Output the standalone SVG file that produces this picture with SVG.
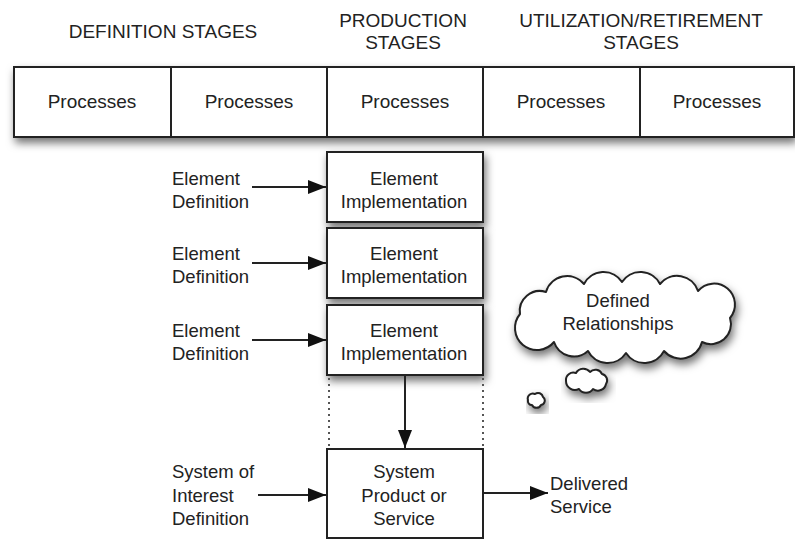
<svg xmlns="http://www.w3.org/2000/svg" width="795" height="543" viewBox="0 0 795 543">
<style>
text{font-family:"Liberation Sans",Arial,sans-serif;fill:#222;}
.h{font-size:19px;text-anchor:middle;}
.t{font-size:18.5px;text-anchor:middle;}
.l{font-size:18.5px;}
.box{fill:#fff;stroke:#222;stroke-width:2;}
.cloud{fill:#fff;stroke:#222;stroke-width:2;stroke-linejoin:round;}
.arr{stroke:#222;stroke-width:2;fill:none;marker-end:url(#ah);}
.dot{stroke:#555;stroke-width:2;stroke-dasharray:2 4;fill:none;}
</style>
<defs>
<filter id="sh" x="-10%" y="-20%" width="130%" height="160%">
<feDropShadow dx="2" dy="5" stdDeviation="4" flood-color="#000" flood-opacity="0.55"/>
</filter>
<marker id="ah" viewBox="0 0 18 14" refX="18" refY="7" markerWidth="18" markerHeight="14" markerUnits="userSpaceOnUse" orient="auto">
<path d="M0,0 L18,7 L0,14 Z" fill="#111"/>
</marker>
</defs>
<rect width="795" height="543" fill="#fff"/>

<g id="headers">
<text class="h" x="163" y="38">DEFINITION STAGES</text>
<text class="h" x="403" y="27">PRODUCTION</text>
<text class="h" x="403" y="49">STAGES</text>
<text class="h" x="641" y="27">UTILIZATION/RETIREMENT</text>
<text class="h" x="641" y="49">STAGES</text>
</g>

<g id="processes">
<rect class="box" x="14" y="67" width="780" height="70" filter="url(#sh)"/>
<line x1="171" y1="67" x2="171" y2="137" stroke="#222" stroke-width="2"/>
<line x1="327" y1="67" x2="327" y2="137" stroke="#222" stroke-width="2"/>
<line x1="483" y1="67" x2="483" y2="137" stroke="#222" stroke-width="2"/>
<line x1="640" y1="67" x2="640" y2="137" stroke="#222" stroke-width="2"/>
<text class="h" x="92" y="108">Processes</text>
<text class="h" x="249" y="108">Processes</text>
<text class="h" x="405" y="108">Processes</text>
<text class="h" x="561" y="108">Processes</text>
<text class="h" x="717" y="108">Processes</text>
</g>

<g id="impl1">
<rect class="box" x="327" y="152" width="156" height="70" filter="url(#sh)"/>
<text class="t" x="404" y="185">Element</text>
<text class="t" x="404" y="208">Implementation</text>
</g>
<g id="impl2">
<rect class="box" x="327" y="228" width="156" height="70" filter="url(#sh)"/>
<text class="t" x="404" y="260">Element</text>
<text class="t" x="404" y="283">Implementation</text>
</g>
<g id="impl3">
<rect class="box" x="327" y="305" width="156" height="70" filter="url(#sh)"/>
<text class="t" x="404" y="337">Element</text>
<text class="t" x="404" y="360">Implementation</text>
</g>

<g id="def1"><text class="l" x="172" y="185">Element</text><text class="l" x="172" y="208">Definition</text></g>
<g id="def2"><text class="l" x="172" y="260">Element</text><text class="l" x="172" y="283">Definition</text></g>
<g id="def3"><text class="l" x="172" y="337">Element</text><text class="l" x="172" y="360">Definition</text></g>

<g id="system">
<rect class="box" x="327" y="449" width="156" height="89"/>
<text class="t" x="404" y="478">System</text>
<text class="t" x="404" y="502">Product or</text>
<text class="t" x="404" y="525">Service</text>
</g>
<g id="soi">
<text class="l" x="172" y="478">System of</text>
<text class="l" x="172" y="502">Interest</text>
<text class="l" x="172" y="525">Definition</text>
</g>
<g id="delivered">
<text class="l" x="550" y="490">Delivered</text>
<text class="l" x="550" y="513">Service</text>
</g>

<g id="relationships">
<path class="cloud" filter="url(#sh)" d="M520,314 A20 20 0 0 1 546,292 A22 22 0 0 1 584,284 A22 22 0 0 1 622,282 A22 22 0 0 1 660,284 A22 22 0 0 1 698,291 A20 20 0 0 1 730,318 A20 20 0 0 1 702,342 A22 22 0 0 1 664,351 A22 22 0 0 1 626,353 A22 22 0 0 1 588,351 A21 21 0 0 1 554,342 A22 22 0 0 1 520,314 Z"/>
<path class="cloud" filter="url(#sh)" d="M566,381 A7.5 7.5 0 0 1 576,373 A8.4 8.4 0 0 1 590,372 A7.3 7.3 0 0 1 602,374 A6.5 6.5 0 0 1 606,384 A8.3 8.3 0 0 1 593,389 A8.4 8.4 0 0 1 579,389 A9 9 0 0 1 566,381 Z"/>
<path class="cloud" filter="url(#sh)" d="M528,400 A5 5 0 0 1 535,394 A5 5 0 0 1 543,397 A4.5 4.5 0 0 1 541,405 A5 5 0 0 1 532,405 A4 4 0 0 1 528,400 Z"/>
<text class="t" x="618" y="307">Defined</text>
<text class="t" x="618" y="330">Relationships</text>
</g>

<g id="connectors">
<line class="arr" x1="252" y1="187" x2="326" y2="187"/>
<line class="arr" x1="252" y1="263" x2="326" y2="263"/>
<line class="arr" x1="252" y1="340" x2="326" y2="340"/>
<line class="arr" x1="258" y1="495" x2="326" y2="495"/>
<line class="arr" x1="484" y1="493" x2="548" y2="493"/>
<line class="arr" x1="405" y1="376" x2="405" y2="448"/>
<line class="dot" x1="329" y1="378" x2="329" y2="447"/>
<line class="dot" x1="483" y1="378" x2="483" y2="447"/>
</g>
</svg>
